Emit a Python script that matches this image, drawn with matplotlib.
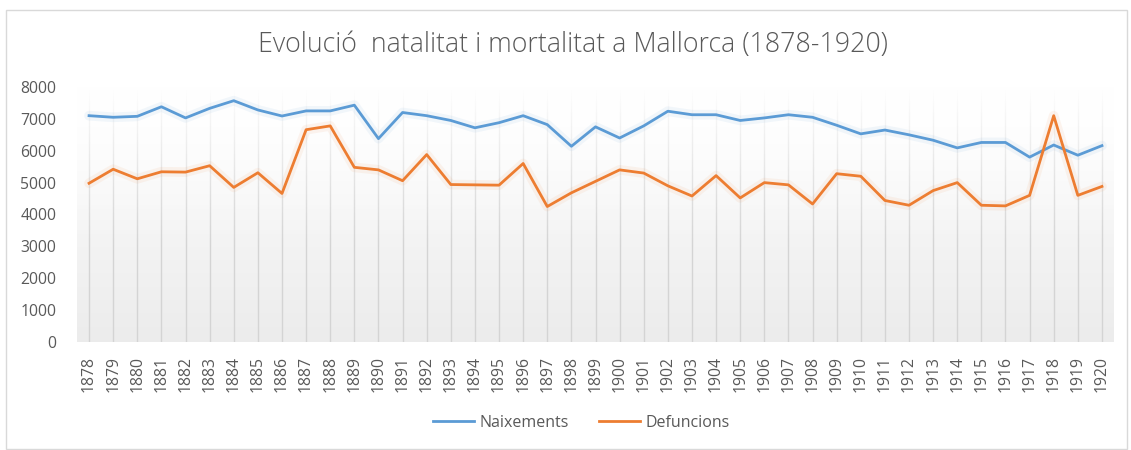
import matplotlib
matplotlib.use("Agg")
import matplotlib.pyplot as plt
import numpy as np
from matplotlib.patches import Rectangle

years = list(range(1878, 1921))
naixements = [7100, 7050, 7080, 7380, 7030, 7330, 7570, 7280, 7090, 7250,
              7250, 7430, 6380, 7200, 7100, 6950, 6720, 6880, 7100, 6820,
              6140, 6750, 6400, 6780, 7240, 7130, 7130, 6950, 7030, 7130,
              7050, 6800, 6530, 6650, 6500, 6330, 6090, 6260, 6260, 5800,
              6180, 5860, 6160]
defuncions = [4980, 5420, 5120, 5340, 5330, 5530, 4850, 5310, 4660, 6660,
              6780, 5480, 5400, 5060, 5880, 4940, 4930, 4920, 5600, 4250,
              4680, 5040, 5400, 5300, 4900, 4580, 5220, 4520, 5000, 4930,
              4330, 5280, 5200, 4440, 4290, 4750, 5000, 4290, 4270, 4600,
              7100, 4600, 4880]
yticks = [0, 1000, 2000, 3000, 4000, 5000, 6000, 7000, 8000]
title = "Evolució  natalitat i mortalitat a Mallorca (1878-1920)"

plt.rcParams['font.family'] = ['Open Sans', 'DejaVu Sans']
TXT = '#595959'
BLUE = '#5B9BD5'
ORANGE = '#ED7D31'

fig = plt.figure(figsize=(11.31, 4.5), dpi=100)
W, H = 1131, 450

# outer chart border
border = Rectangle((6 / W, 1 / H), 1121 / W, 439 / H,
                   transform=fig.transFigure, facecolor='none',
                   edgecolor='#d9d9d9', linewidth=1.0, zorder=5)
fig.patches.append(border)

ax = fig.add_axes([77 / W, 1 - 342 / H, (1114 - 77) / W, (342 - 87) / H])
x = np.arange(len(years))
ax.set_xlim(-0.5, len(years) - 0.5)
ax.set_ylim(0, 8000)

# gradient background
grad = np.linspace(0, 1, 256)[:, None]
c_top = np.array([1.0, 1.0, 1.0])
c_bot = np.array([0.925, 0.925, 0.925])
img = c_bot[None, None, :] * (1 - grad[:, :, None]) + c_top[None, None, :] * grad[:, :, None]
ax.imshow(img, extent=(-0.5, len(years) - 0.5, 0, 8000), aspect='auto',
          origin='lower', zorder=0)

# vertical gridlines
for xi in x:
    ax.axvline(xi, color='#d4d4d4', linewidth=1.0, zorder=0.5)

# white fade overlay on top part
alpha = np.clip((grad - 0.35) / 0.65, 0, 1) ** 1.2
overlay = np.ones((256, 1, 4))
overlay[:, :, 3] = alpha
ax.imshow(overlay, extent=(-0.5, len(years) - 0.5, 0, 8000), aspect='auto',
          origin='lower', zorder=1)

# soft glow + lines
ax.plot(x, naixements, color=BLUE, linewidth=7, alpha=0.08, zorder=2,
        solid_joinstyle='round', solid_capstyle='round')
ax.plot(x, defuncions, color=ORANGE, linewidth=7, alpha=0.08, zorder=2,
        solid_joinstyle='round', solid_capstyle='round')
ax.plot(x, naixements, color=BLUE, linewidth=2.0, zorder=3, label='Naixements',
        solid_joinstyle='round')
ax.plot(x, defuncions, color=ORANGE, linewidth=2.0, zorder=3, label='Defuncions',
        solid_joinstyle='round')

for s in ax.spines.values():
    s.set_visible(False)
ax.set_yticks(yticks)
ax.set_yticklabels([str(v) for v in yticks])
ax.set_xticks(x)
ax.set_xticklabels([str(y) for y in years], rotation=90)
ax.tick_params(axis='both', length=0, colors=TXT, labelsize=11.3)
ax.tick_params(axis='y', pad=15)
ax.tick_params(axis='x', pad=10)

fig.text(573 / W, 1 - 45 / H, title, ha='center', va='center',
         fontsize=19.3, color=TXT, fontweight='light')

leg = fig.legend(loc='center', bbox_to_anchor=(581 / W, 1 - 423 / H),
                 ncol=2, frameon=False, fontsize=11.5, handlelength=2.6,
                 columnspacing=1.9, handletextpad=0.3)
for t in leg.get_texts():
    t.set_color(TXT)

fig.savefig('out.png', dpi=100)
